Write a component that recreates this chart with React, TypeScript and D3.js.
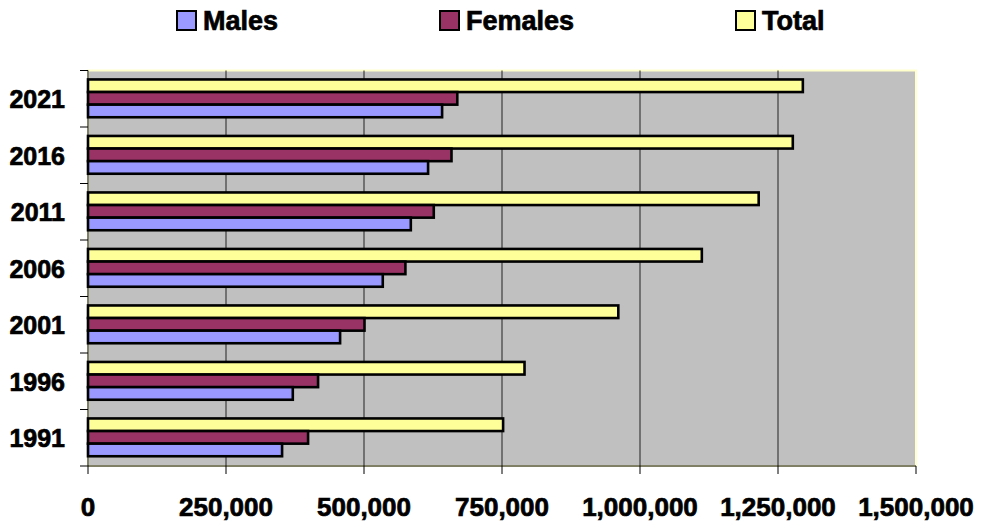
import React from "react";
import * as d3 from "d3";

// Population by census year
const years = ["2021", "2016", "2011", "2006", "2001", "1996", "1991"];
const males = [641500, 616100, 584800, 534000, 456700, 371000, 351600];
const females = [669000, 658500, 626400, 575000, 500900, 416800, 398700];
const totals = [1295000, 1276800, 1215000, 1112000, 960700, 790800, 752000];
const xTicks = [0, 250000, 500000, 750000, 1000000, 1250000, 1500000];

const seriesNames = ["Total", "Females", "Males"];
const seriesColors: Record<string, string> = {
  Males: "#9999FF",
  Females: "#993366",
  Total: "#FFFF99",
};
const legendOrder = ["Males", "Females", "Total"];

const W = 982;
const H = 524;
const plot = { left: 88, right: 916, top: 70.5, bottom: 466 };
const FONT = "'Liberation Sans', Arial, Helvetica, sans-serif";

export default function App() {
  const x = d3.scaleLinear().domain([0, 1500000]).range([plot.left, plot.right]);
  const y = d3.scaleBand<string>().domain(years).range([plot.top, plot.bottom]);
  const barH = 12.6;

  const valuesFor: Record<string, number[]> = {
    Males: males,
    Females: females,
    Total: totals,
  };

  const fmt = d3.format(",");
  const legendX = [176, 439, 735];
  const textStyle = { stroke: "#000", strokeWidth: 0.7 };

  return (
    <svg
      width={W}
      height={H}
      style={{ position: "absolute", left: 0, top: 0, background: "#fff" }}
      fontFamily={FONT}
    >
      {/* plot background */}
      <rect
        x={plot.left}
        y={plot.top}
        width={plot.right - plot.left}
        height={plot.bottom - plot.top}
        fill="#C0C0C0"
        stroke="#FFFFCC"
        strokeWidth={2}
      />
      {/* vertical gridlines */}
      {xTicks.slice(1, -1).map((t) => (
        <line
          key={t}
          x1={x(t)}
          x2={x(t)}
          y1={plot.top}
          y2={plot.bottom}
          stroke="#222"
          strokeWidth={1}
        />
      ))}
      {/* bars */}
      {years.map((yr, i) => {
        const center = (y(yr) as number) + y.bandwidth() / 2 - 0.4;
        return seriesNames.map((s, j) => (
          <rect
            key={yr + s}
            x={x(0)}
            y={center - 1.5 * barH + j * barH}
            width={x(valuesFor[s][i]) - x(0)}
            height={barH}
            fill={seriesColors[s]}
            stroke="#000"
            strokeWidth={2.6}
          />
        ));
      })}
      {/* axes */}
      <line x1={plot.left} x2={plot.left} y1={plot.top} y2={plot.bottom} stroke="#000" strokeWidth={1} />
      <line x1={plot.left} x2={plot.right} y1={plot.bottom} y2={plot.bottom} stroke="#000" strokeWidth={1} />
      {d3.range(years.length + 1).map((k) => {
        const yy = plot.top + k * y.step();
        return <line key={"yt" + k} x1={plot.left - 8} x2={plot.left} y1={yy} y2={yy} stroke="#000" strokeWidth={1} />;
      })}
      {xTicks.map((t) => (
        <line key={"xt" + t} x1={x(t)} x2={x(t)} y1={plot.bottom} y2={plot.bottom + 8} stroke="#000" strokeWidth={1} />
      ))}
      {/* x tick labels */}
      {xTicks.map((t) => (
        <text
          key={"xl" + t}
          x={x(t)}
          y={516}
          textAnchor="middle"
          fontSize={26}
          fontWeight="bold"
          fill="#000"
          {...textStyle}
        >
          {fmt(t)}
        </text>
      ))}
      {/* category labels */}
      {years.map((yr) => (
        <text
          key={"yl" + yr}
          x={65}
          y={(y(yr) as number) + y.bandwidth() / 2 + 9.5}
          textAnchor="end"
          fontSize={25}
          fontWeight="bold"
          fill="#000"
          {...textStyle}
        >
          {yr}
        </text>
      ))}
      {/* legend */}
      {legendOrder.map((s, i) => (
        <g key={"lg" + s} transform={`translate(${legendX[i]},0)`}>
          <rect x={1} y={11} width={19} height={19} fill={seriesColors[s]} stroke="#000" strokeWidth={2} />
          <text x={27} y={29.5} fontSize={27} fontWeight="bold" fill="#000" {...textStyle}>
            {s}
          </text>
        </g>
      ))}
    </svg>
  );
}
